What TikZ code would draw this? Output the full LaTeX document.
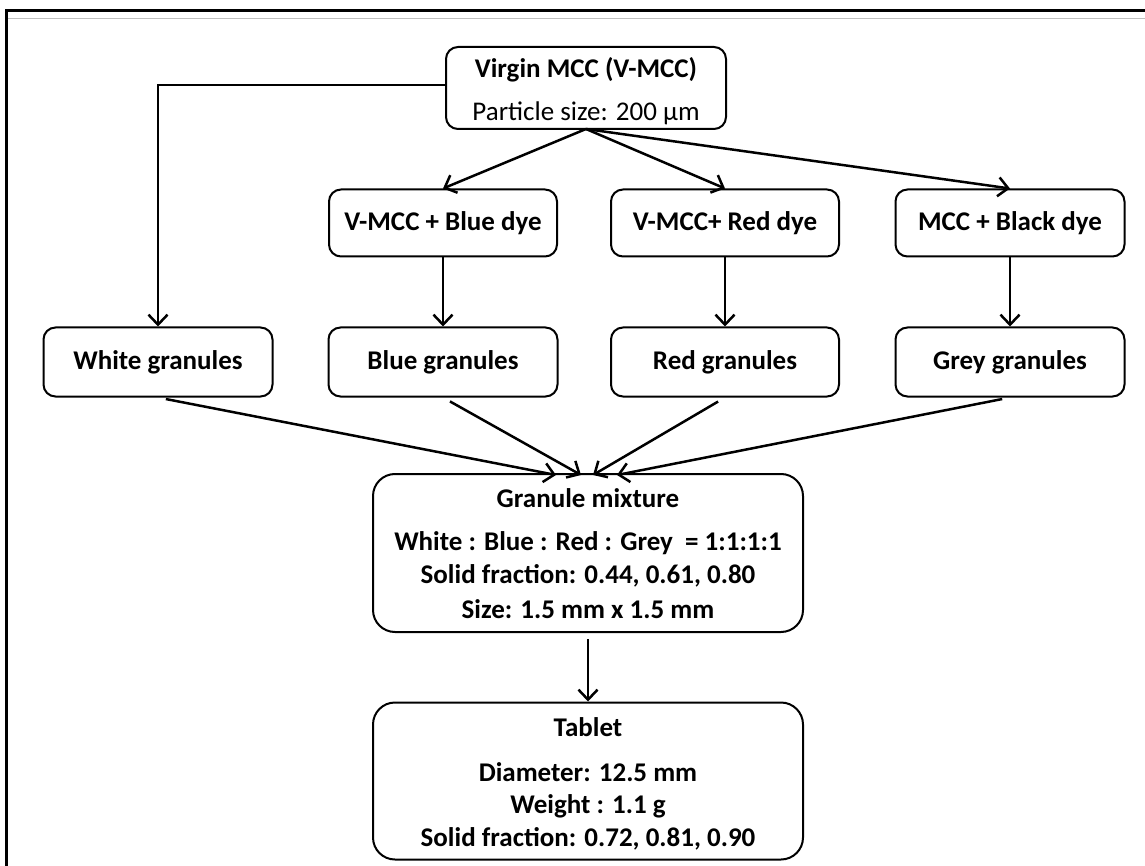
\documentclass[tikz,border=0pt]{standalone}
\usepackage{fontspec}
\setmainfont{Carlito}
\usetikzlibrary{arrows.meta}
\begin{document}
\begin{tikzpicture}[x=1pt,y=-1pt,
  box/.style={draw, line width=2pt, rounded corners=12pt, inner sep=0pt, font=\fontsize{27}{30}\selectfont\bfseries},
  bigbox/.style={draw, line width=2pt, rounded corners=22pt, inner sep=0pt},
  txt/.style={inner sep=0pt, font=\fontsize{27}{30}\selectfont\bfseries},
  arr/.style={line width=2.5pt, -{Straight Barb[length=10pt,width=19pt,line width=2.5pt]}}]
\useasboundingbox (0,0) rectangle (1145,866);
% frame
\draw[line width=3pt] (6,866) -- (6,11) -- (1145,11);
\draw[line width=0.8pt, black!25] (8,18) -- (1145,18);
% top box
\node[box, minimum width=280pt, minimum height=82pt] (vmcc) at (586,88) {};
\node[txt] (vmcct) at (586,70) {Virgin MCC (V-MCC)};
\node[txt, font=\fontsize{27}{30}\selectfont] (vmccs) at (586,113) {Particle size: 200 µm};
% row 2
\node[box, minimum width=228pt, minimum height=67pt] (bdye) at (443,223) {V-MCC + Blue dye};
\node[box, minimum width=228pt, minimum height=67pt] (rdye) at (725,223) {V-MCC+ Red dye};
\node[box, minimum width=229pt, minimum height=67pt] (kdye) at (1010,223) {MCC + Black dye};
% row 3
\node[box, minimum width=229pt, minimum height=69pt] (white) at (158,362) {White granules};
\node[box, minimum width=229pt, minimum height=69pt] (blue) at (443,362) {Blue granules};
\node[box, minimum width=228pt, minimum height=69pt] (red) at (725,362) {Red granules};
\node[box, minimum width=229pt, minimum height=69pt] (grey) at (1010,362) {Grey granules};
% mixture
\node[bigbox, minimum width=430pt, minimum height=158pt] (mix) at (588,553) {};
\node[txt] (mixa) at (588,498) {Granule mixture};
\node[txt] (mixb) at (588,543) {White : Blue : Red : Grey\ \ = 1:1:1:1};
\node[txt] (mixc) at (588,576) {Solid fraction: 0.44, 0.61, 0.80};
\node[txt] (mixd) at (588,609) {Size: 1.5 mm x 1.5 mm};
% tablet
\node[bigbox, minimum width=430pt, minimum height=157pt] (tab) at (588,781) {};
\node[txt] (taba) at (588,727) {Tablet};
\node[txt] (tabb) at (588,772) {Diameter: 12.5 mm};
\node[txt] (tabc) at (588,806) {Weight : 1.1 g};
\node[txt] (tabd) at (588,839) {Solid fraction: 0.72, 0.81, 0.90};
% connectors
\coordinate (vsrc) at ([yshift=1pt]vmcc.south);
\draw[arr] (vmcc.west |- 0,85) -| (white.north);
\draw[arr] (vsrc) -- (bdye.north);
\draw[arr] (vsrc) -- (rdye.north);
\draw[arr] (vsrc) -- (kdye.north);
\draw[arr] (bdye) -- (blue);
\draw[arr] (rdye) -- (red);
\draw[arr] (kdye) -- (grey);
\coordinate (mw) at ([xshift=-32pt,yshift=-2pt]mix.north);
\coordinate (mb) at ([xshift=-7pt,yshift=-2pt]mix.north);
\coordinate (mr) at ([xshift=5pt,yshift=-2pt]mix.north);
\coordinate (mg) at ([xshift=29pt,yshift=-2pt]mix.north);
\draw[arr, shorten <=8pt] (white.south) -- (mw);
\draw[arr, shorten <=8pt] (blue.south) -- (mb);
\draw[arr, shorten <=8pt] (red.south) -- (mr);
\draw[arr, shorten <=8pt] (grey.south) -- (mg);
\draw[arr, shorten <=6pt] (mix.south) -- (tab.north);
\end{tikzpicture}
\end{document}
